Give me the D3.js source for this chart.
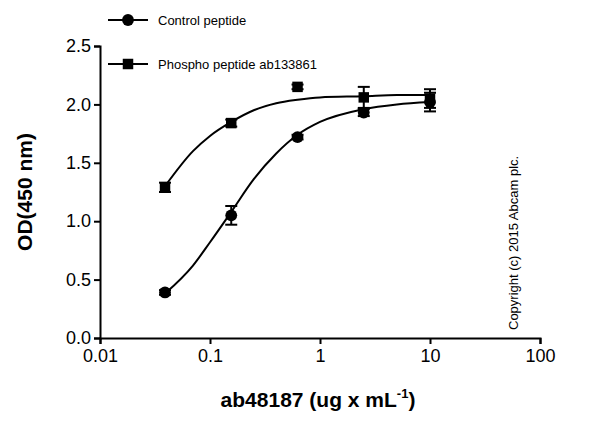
<!DOCTYPE html>
<html><head><meta charset="utf-8">
<script src="https://cdn.jsdelivr.net/npm/d3@7"></script>
<style>body{margin:0;background:#fff}svg{font-family:"Liberation Sans",Arial,sans-serif}</style>
</head><body><svg width="600" height="436"></svg>
<script>
// measured points
const conc = [0.039, 0.156, 0.625, 2.5, 10]
const controlOD = [0.39, 1.05, 1.72, 1.93, 2.02]
const controlErr = [0.02, 0.08, 0.02, 0.03, 0.08]
const phosphoOD = [1.29, 1.84, 2.15, 2.06, 2.05]
const phosphoErr = [0.04, 0.03, 0.02, 0.09, 0.08]
// fitted curves
const fitX = [0.039, 0.07, 0.1, 0.156, 0.25, 0.4, 0.625, 1, 2.5, 5, 10]
const controlFit = [0.38, 0.62, 0.82, 1.08, 1.36, 1.58, 1.74, 1.85, 1.96, 2.0, 2.02]
const phosphoFit = [1.3, 1.6, 1.73, 1.85, 1.95, 2.01, 2.04, 2.06, 2.07, 2.08, 2.08]
const xTicks = [0.01, 0.1, 1, 10, 100]
const yTicks = [0, 0.5, 1, 1.5, 2, 2.5]

const svg = d3.select('svg')
const x = d3.scaleLog().domain([0.01, 100]).range([100, 540])
const y = d3.scaleLinear().domain([0, 2.5]).range([338, 46])

svg.append('g').attr('transform', 'translate(0,338)')
  .call(d3.axisBottom(x).tickValues(xTicks).tickFormat(d => d).tickSizeOuter(0).tickSize(6))
  .call(g => g.selectAll('text').attr('font-size', 18).attr('dy', '0.85em'))
svg.append('g').attr('transform', 'translate(100,0)')
  .call(d3.axisLeft(y).tickValues(yTicks).tickFormat(d3.format('.1f')).tickSizeOuter(0).tickSize(6))
  .call(g => g.selectAll('text').attr('font-size', 18))
svg.selectAll('.domain, .tick line').attr('stroke', '#000').attr('stroke-width', 2)

const line = d3.line().x(d => x(d[0])).y(d => y(d[1])).curve(d3.curveMonotoneX)
const series = [
  { od: controlOD, err: controlErr, fit: controlFit, shape: d3.symbolCircle },
  { od: phosphoOD, err: phosphoErr, fit: phosphoFit, shape: d3.symbolSquare }
]
series.forEach(s => {
  svg.append('path').datum(fitX.map((v, i) => [v, s.fit[i]]))
    .attr('d', line).attr('fill', 'none').attr('stroke', '#000').attr('stroke-width', 2)
  const pts = conc.map((c, i) => ({ c, v: s.od[i], e: s.err[i] }))
  const eb = svg.append('g').selectAll('g').data(pts).enter().append('g').attr('stroke', '#000').attr('stroke-width', 2)
  eb.append('line').attr('x1', d => x(d.c)).attr('x2', d => x(d.c)).attr('y1', d => y(d.v + d.e)).attr('y2', d => y(d.v - d.e))
  eb.append('line').attr('x1', d => x(d.c) - 6).attr('x2', d => x(d.c) + 6).attr('y1', d => y(d.v + d.e)).attr('y2', d => y(d.v + d.e))
  eb.append('line').attr('x1', d => x(d.c) - 6).attr('x2', d => x(d.c) + 6).attr('y1', d => y(d.v - d.e)).attr('y2', d => y(d.v - d.e))
  svg.append('g').selectAll('path').data(pts).enter().append('path')
    .attr('d', d3.symbol().type(s.shape).size(110))
    .attr('transform', d => `translate(${x(d.c)},${y(d.v)})`)
})

const legend = [['Control peptide', d3.symbolCircle], ['Phospho peptide ab133861', d3.symbolSquare]]
legend.forEach(([label, shape], i) => {
  const ly = 20 + i * 44
  svg.append('line').attr('x1', 108).attr('x2', 148).attr('y1', ly).attr('y2', ly).attr('stroke', '#000').attr('stroke-width', 2)
  svg.append('path').attr('d', d3.symbol().type(shape).size(110)).attr('transform', `translate(128,${ly})`)
  svg.append('text').attr('x', 158).attr('y', ly + 5).attr('font-size', 13).text(label)
})

svg.append('text').attr('transform', 'translate(32,192) rotate(-90)').attr('text-anchor', 'middle')
  .attr('font-size', 21).attr('font-weight', 'bold').text('OD(450 nm)')
const xt = svg.append('text').attr('x', 318).attr('y', 407).attr('text-anchor', 'middle')
  .attr('font-size', 21).attr('font-weight', 'bold')
xt.append('tspan').text('ab48187 (ug x mL')
xt.append('tspan').attr('font-size', 13).attr('dy', -9).text('-1')
xt.append('tspan').attr('dy', 9).text(')')
svg.append('text').attr('transform', 'translate(518,330) rotate(-90)')
  .attr('font-size', 13).text('Copyright (c) 2015 Abcam plc.')
</script></body></html>
